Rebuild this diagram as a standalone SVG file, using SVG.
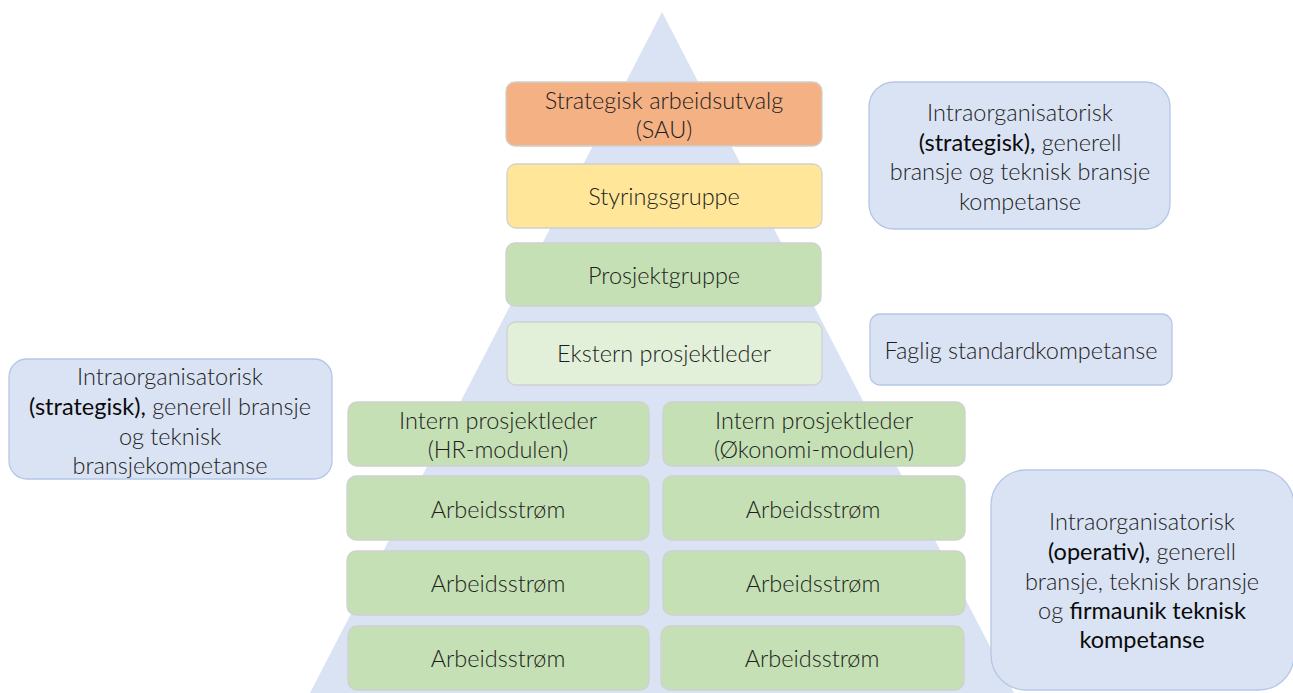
<svg xmlns="http://www.w3.org/2000/svg" width="1293" height="693" viewBox="0 0 1293 693">
  <style>
    .box { stroke: #D0D0D0; stroke-width: 1.3; }
    .sau { fill: #F4B183; }
    .styr { fill: #FFE699; }
    .green { fill: #C5E0B4; }
    .pale { fill: #E2F0D9; }
    .note { fill: #DAE3F3; stroke: #B4C7E7; stroke-width: 1.3; }
    text { font-family: Lato, "Open Sans", "Liberation Sans", sans-serif; font-weight: 300; font-size: 23.5px; fill: #1E1E1E; text-anchor: middle; }
    .b { font-weight: 400; fill: #0A0A0A; }
  </style>

  <!-- background pyramid -->
  <polygon points="662,12 310,693 1014,693" fill="#DAE3F3"/>

  <g id="sau">
    <rect class="box sau" x="506" y="82" width="316" height="64" rx="9"/>
    <text x="664" y="109">Strategisk arbeidsutvalg</text>
    <text x="664" y="138">(SAU)</text>
  </g>
  <g id="styringsgruppe">
    <rect class="box styr" x="507" y="164" width="315" height="64" rx="9"/>
    <text x="664" y="205">Styringsgruppe</text>
  </g>
  <g id="prosjektgruppe">
    <rect class="box green" x="506" y="243" width="315" height="63" rx="9"/>
    <text x="664" y="284">Prosjektgruppe</text>
  </g>
  <g id="ekstern">
    <rect class="box pale" x="507" y="322" width="315" height="63" rx="9"/>
    <text x="664" y="362">Ekstern prosjektleder</text>
  </g>

  <g id="intern-hr">
    <rect class="box green" x="348" y="402" width="301" height="64" rx="9"/>
    <text x="498" y="429">Intern prosjektleder</text>
    <text x="498" y="458">(HR-modulen)</text>
  </g>
  <g id="intern-okonomi">
    <rect class="box green" x="663" y="402" width="302" height="64" rx="9"/>
    <text x="814" y="429">Intern prosjektleder</text>
    <text x="814" y="458">(Økonomi-modulen)</text>
  </g>

  <g id="hr-strom-1">
    <rect class="box green" x="347" y="476" width="302" height="64" rx="9"/>
    <text x="498" y="518">Arbeidsstrøm</text>
  </g>
  <g id="hr-strom-2">
    <rect class="box green" x="347" y="551" width="302" height="64" rx="9"/>
    <text x="498" y="592">Arbeidsstrøm</text>
  </g>
  <g id="hr-strom-3">
    <rect class="box green" x="348" y="626" width="301" height="64" rx="9"/>
    <text x="498" y="667">Arbeidsstrøm</text>
  </g>
  <g id="ok-strom-1">
    <rect class="box green" x="663" y="476" width="302" height="64" rx="9"/>
    <text x="813" y="518">Arbeidsstrøm</text>
  </g>
  <g id="ok-strom-2">
    <rect class="box green" x="663" y="551" width="302" height="64" rx="9"/>
    <text x="813" y="592">Arbeidsstrøm</text>
  </g>
  <g id="ok-strom-3">
    <rect class="box green" x="661" y="626" width="303" height="64" rx="9"/>
    <text x="812" y="667">Arbeidsstrøm</text>
  </g>

  <!-- competence notes -->
  <g id="note-top">
    <rect class="note" x="869" y="82" width="301" height="147" rx="25"/>
    <text x="1020" y="121">Intraorganisatorisk</text>
    <text x="1020" y="151"><tspan class="b">(strategisk),</tspan> generell</text>
    <text x="1020" y="180">bransje og teknisk bransje</text>
    <text x="1020" y="210">kompetanse</text>
  </g>
  <g id="note-faglig">
    <rect class="note" x="870" y="314" width="302" height="71" rx="10"/>
    <text x="1021" y="359">Faglig standardkompetanse</text>
  </g>
  <g id="note-left">
    <rect class="note" x="9" y="359" width="323" height="120" rx="18"/>
    <text x="170" y="385">Intraorganisatorisk</text>
    <text x="170" y="415"><tspan class="b">(strategisk),</tspan> generell bransje</text>
    <text x="170" y="445">og teknisk</text>
    <text x="170" y="474">bransjekompetanse</text>
  </g>
  <g id="note-bottom">
    <rect class="note" x="991" y="470" width="303" height="220" rx="35"/>
    <text x="1142" y="530">Intraorganisatorisk</text>
    <text x="1142" y="560"><tspan class="b">(operativ),</tspan> generell</text>
    <text x="1142" y="590">bransje, teknisk bransje</text>
    <text x="1142" y="619">og <tspan class="b">firmaunik teknisk</tspan></text>
    <text x="1142" y="648" class="b">kompetanse</text>
  </g>
</svg>
